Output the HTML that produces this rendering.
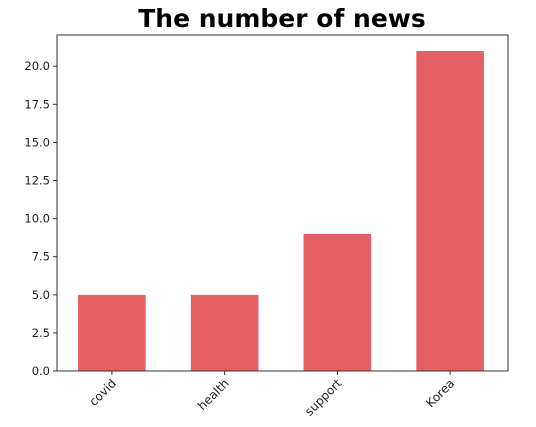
<!DOCTYPE html>
<html><head><meta charset="utf-8"><style>
body{margin:0;background:#fff;}
svg{display:block;font-family:"DejaVu Sans","Liberation Sans",sans-serif;}
</style></head><body>
<svg id="chart" width="536" height="427">
<text x="282" y="27" text-anchor="middle" font-size="25" font-weight="bold" fill="#000">The number of news</text>
<g id="plot"></g>
</svg>
<script>
const categories = ["covid", "health", "support", "Korea"];
const values = [5, 5, 9, 21];
const yTicks = [0, 2.5, 5, 7.5, 10, 12.5, 15, 17.5, 20];
const yTickLabels = ["0.0", "2.5", "5.0", "7.5", "10.0", "12.5", "15.0", "17.5", "20.0"];

const L = 57, R = 508, T = 35, B = 371;
const ymax = Math.max(...values) * 1.05;
const y = v => B - v / ymax * (B - T);
const step = (R - L) / categories.length;
const x = i => L - 1.5 + step * (i + 0.5);
const bw = step * 0.6;
const NS = "http://www.w3.org/2000/svg";
const g = document.getElementById('plot');
function mk(tag, attrs, parent) {
  const e = document.createElementNS(NS, tag);
  for (const k in attrs) e.setAttribute(k, attrs[k]);
  (parent || g).appendChild(e);
  return e;
}
values.forEach((v, i) => {
  const r = mk('rect', {x: x(i) - bw / 2, y: y(v), width: bw, height: y(0) - y(v), fill: '#e46065'});
  
  
});
const frame = mk('rect', {x: L, y: T, width: R - L, height: B - T, fill: 'none', stroke: '#333', 'stroke-width': 1});


yTicks.forEach((t, i) => {
  const yy = y(t);
  const tk = mk('line', {x1: L - 4, x2: L, y1: yy, y2: yy, stroke: '#333'});
  
  
  const tx = mk('text', {x: L - 7, y: yy + 4, 'text-anchor': 'end', 'font-size': 11.5, fill: '#222'});
  tx.textContent = yTickLabels[i];
  
  
});
categories.forEach((c, i) => {
  const xx = x(i);
  const tk = mk('line', {x1: xx, x2: xx, y1: B, y2: B + 4, stroke: '#333'});
  
  
  const ax = xx + 5, ay = B + 13;
  const tx = mk('text', {x: ax, y: ay, 'text-anchor': 'end', 'font-size': 12, fill: '#222', transform: `rotate(-45 ${ax} ${ay})`});
  tx.textContent = c;
  
  
});
</script>
</body></html>
